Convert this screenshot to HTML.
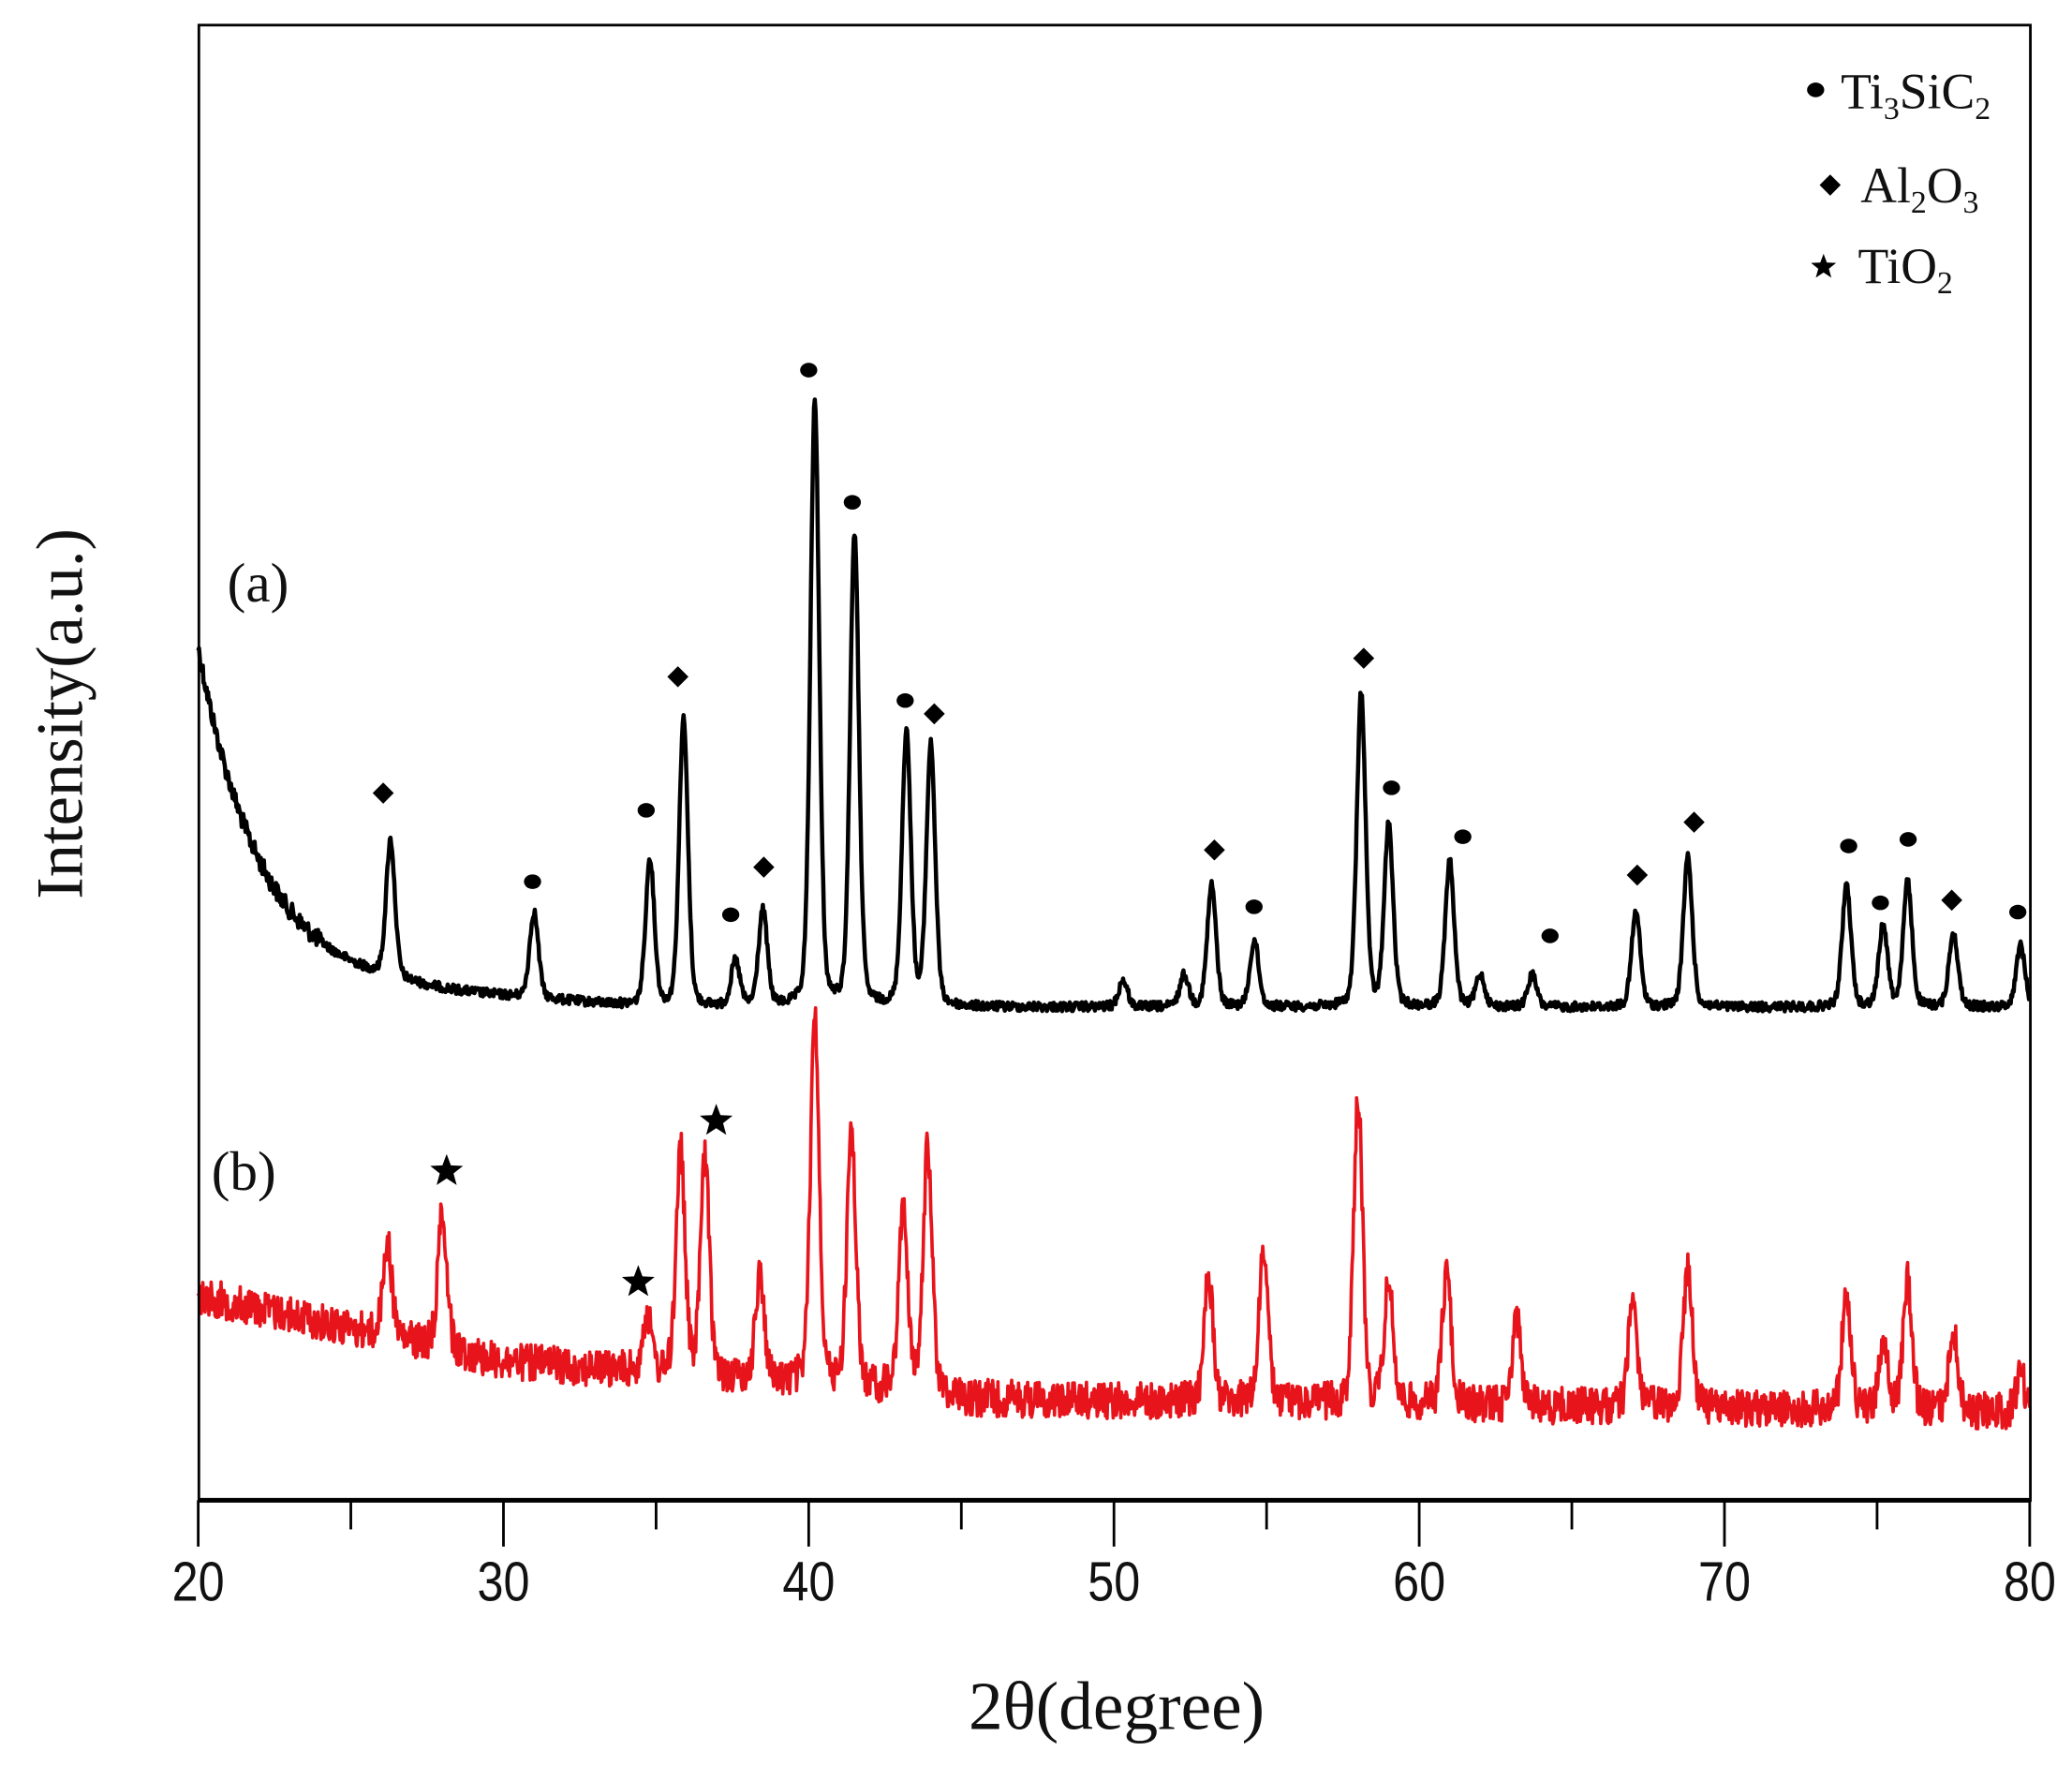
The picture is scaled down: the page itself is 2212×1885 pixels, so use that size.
<!DOCTYPE html>
<html><head><meta charset="utf-8"><style>
html,body{margin:0;padding:0;background:#fff;}
svg{display:block;}
</style></head><body>
<svg id="s" width="2212" height="1885" viewBox="0 0 1568 1336" preserveAspectRatio="none" xmlns="http://www.w3.org/2000/svg">
<rect x="0" y="0" width="1568" height="1336" fill="#fff"/>
<path id="pa" fill="none" stroke="#000" stroke-width="3.2" stroke-linejoin="round"/>
<path id="pb" fill="none" stroke="#e8141c" stroke-width="2.6" stroke-linejoin="round"/>
<rect x="150.5" y="19" width="1386" height="1116" fill="none" stroke="#000" stroke-width="2"/>
<line x1="150" y1="1135" x2="1537" y2="1135" stroke="#000" stroke-width="3.5"/>
<g id="ticks" stroke="#000" stroke-width="2"></g>
<g font-family="Liberation Sans, sans-serif" font-size="42" text-anchor="middle" fill="#111">
<text x="150" y="1211" transform="translate(150 0) scale(0.85 1) translate(-150 0)">20</text>
<text x="381" y="1211" transform="translate(381 0) scale(0.85 1) translate(-381 0)">30</text>
<text x="612" y="1211" transform="translate(612 0) scale(0.85 1) translate(-612 0)">40</text>
<text x="843" y="1211" transform="translate(843 0) scale(0.85 1) translate(-843 0)">50</text>
<text x="1074" y="1211" transform="translate(1074 0) scale(0.85 1) translate(-1074 0)">60</text>
<text x="1305" y="1211" transform="translate(1305 0) scale(0.85 1) translate(-1305 0)">70</text>
<text x="1536" y="1211" transform="translate(1536 0) scale(0.85 1) translate(-1536 0)">80</text>
</g>
<g font-family="Liberation Serif, serif" fill="#111">
<text x="845" y="1308" font-size="52" text-anchor="middle">2θ(degree)</text>
<text transform="translate(62 540) rotate(-90)" font-size="50" text-anchor="middle">Intensity(a.u.)</text>
<text x="172" y="455" font-size="42">(a)</text>
<text x="160" y="900" font-size="42">(b)</text>
<text x="1393" y="82" font-size="38">Ti<tspan font-size="24" dy="8">3</tspan><tspan dy="-8">SiC</tspan><tspan font-size="24" dy="8">2</tspan></text>
<text x="1408" y="153" font-size="38">Al<tspan font-size="24" dy="8">2</tspan><tspan dy="-8">O</tspan><tspan font-size="24" dy="8">3</tspan></text>
<text x="1406" y="214" font-size="38">TiO<tspan font-size="24" dy="8">2</tspan></text>
</g>
<g id="marks" fill="#000"></g>
</svg>
<script>
var NS="http://www.w3.org/2000/svg";
function X(t){return 150+(t-20)*23.1;}
var seed=12345;function rnd(){seed=(seed*1103515245+12345)%2147483648;return seed/2147483648;}
function build(peaks,base,noise,w){
 var d="";
 for(var t=20;t<=80.001;t+=0.025){
  var y=base(t);
  for(var i=0;i<peaks.length;i++){var p=peaks[i];var dx=(t-p[0])/w;
   y-=(base(p[0])-p[1])*(0.75*Math.exp(-dx*dx*0.69)+0.25/(1+dx*dx));}
  y+=(rnd()-0.5)*noise(t);
  d+=(d?"L":"M")+X(t).toFixed(1)+" "+y.toFixed(1);
 }
 return d;
}
var pa=[[26.3,635],[31,690],[34.8,650],[35.9,545],[37.6,728],[38.5,690],[40.2,305],[41.5,405],[43.2,555],[44.0,565],[50.3,742],[52.3,738],[53.2,670],[54.6,712],[58.1,525],[59.0,625],[61.0,652],[62.0,738],[63.7,738],[67.1,690],[68.8,648],[74.0,670],[75.2,700],[76.0,668],[77.5,705],[79.7,715]];
function baseA(t){var b=762-250*Math.exp(-(t-20)/2.0); if(t<35)b-=22*(35-t)/15; return b;}
document.getElementById("pa").setAttribute("d",build(pa,baseA,function(t){return t<24?14:7;},0.17));
var pb=[[26.2,940],[28.0,915],[34.7,995],[35.8,870],[36.6,878],[38.4,965],[40.2,768],[41.4,855],[43.1,912],[43.9,868],[53.1,965],[54.9,945],[58.0,830],[59.0,970],[60.9,962],[63.2,998],[67.0,985],[68.8,958],[74.0,977],[75.2,1015],[76.0,970],[77.5,1008],[79.7,1040]];
function baseB(t){if(t<30)return 980+(t-20)*5;if(t<45)return 1030+(t-30)*1.7;return 1058+(t-45)*0.3;}
document.getElementById("pb").setAttribute("d",build(pb,baseB,function(t){return 28;},0.17));
var tk=document.getElementById("ticks");
for(var v=20;v<=80;v+=5){var l=document.createElementNS(NS,"line");var x=X(v);l.setAttribute("x1",x);l.setAttribute("x2",x);l.setAttribute("y1",1135);l.setAttribute("y2",v%10==0?1170:1157);tk.appendChild(l);}
var mk=document.getElementById("marks");
function circ(x,y){var e=document.createElementNS(NS,"ellipse");e.setAttribute("cx",x);e.setAttribute("cy",y);e.setAttribute("rx",6.5);e.setAttribute("ry",5.5);mk.appendChild(e);}
function dia(x,y){var e=document.createElementNS(NS,"polygon");e.setAttribute("points",(x-8)+","+y+" "+x+","+(y-8)+" "+(x+8)+","+y+" "+x+","+(y+8));mk.appendChild(e);}
function star(x,y,r){var p=[];for(var i=0;i<10;i++){var a=-Math.PI/2+i*Math.PI/5;var rr=i%2?r*0.42:r;p.push((x+rr*Math.cos(a)).toFixed(1)+","+(y+rr*Math.sin(a)).toFixed(1));}var e=document.createElementNS(NS,"polygon");e.setAttribute("points",p.join(" "));mk.appendChild(e);}
[[612,280],[645,380],[685,530],[489,613],[403,667],[553,692],[949,686],[1053,596],[1107,633],[1173,708],[1399,640],[1423,683],[1444,635],[1527,690],[1374,68]].forEach(function(p){circ(p[0],p[1]);});
[[290,600],[513,512],[578,656],[707,540],[919,643],[1032,498],[1239,662],[1282,622],[1477,681],[1385,140]].forEach(function(p){dia(p[0],p[1]);});
[[338,886],[542,848],[483,970]].forEach(function(p){star(p[0],p[1],13);});
star(1380,202,10);
</script>
</body></html>
